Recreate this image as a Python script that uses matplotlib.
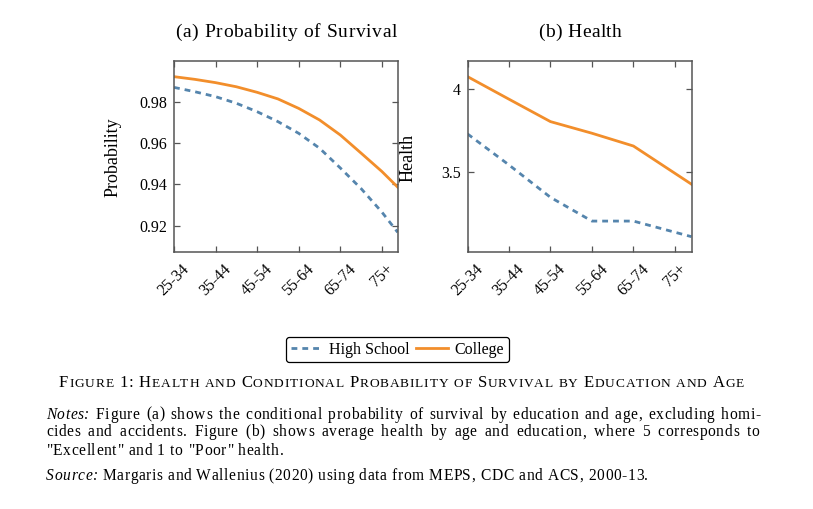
import matplotlib
matplotlib.use('Agg')
import matplotlib.pyplot as plt
from matplotlib.lines import Line2D

W, H = 813, 509
plt.rcParams['font.family'] = ['Liberation Serif', 'DejaVu Serif']

# ---------------- data ----------------
age_labels = ['25-34', '35-44', '45-54', '55-64', '65-74', '75+']
tick_ages = [25, 35, 45, 55, 65, 75]

surv_ages = [25, 30, 35, 40, 45, 50, 55, 60, 65, 70, 75, 78.8]
surv_hs = [0.9871, 0.9850, 0.9826, 0.9794, 0.9753, 0.9705, 0.9648, 0.9576,
           0.9480, 0.9380, 0.9266, 0.9168]
surv_col = [0.9923, 0.9910, 0.9894, 0.9874, 0.9847, 0.9815, 0.9769, 0.9713,
            0.9640, 0.9552, 0.9463, 0.9387]

health_ages = [25, 35, 45, 55, 65, 79]
health_hs = [3.731, 3.544, 3.349, 3.206, 3.206, 3.112]
health_col = [4.076, 3.940, 3.805, 3.735, 3.658, 3.428]

series_names = ['High School', 'College']
c_hs = '#5585ad'
c_col = '#f28e2b'
spine_c = '#555555'

fig = plt.figure(figsize=(W / 100, H / 100), dpi=100)
renderer = fig.canvas.get_renderer()


def fx(x):
    return x / W


def fy(y):
    return 1 - y / H


def style_ax(ax, xmax):
    ax.set_xlim(25, xmax)
    ax.set_xticks(tick_ages)
    ax.set_xticklabels(age_labels)
    for lbl in ax.get_xticklabels():
        lbl.set(rotation=45, ha='center', va='top', rotation_mode='default')
    ax.tick_params(direction='in', length=4, width=0.9, color=spine_c,
                   top=True, right=True, labelsize=11.5, pad=5)
    ax.tick_params(axis='x', pad=6.5)
    for s in ax.spines.values():
        s.set_color(spine_c)
        s.set_linewidth(1.1)


hs_kw = dict(color=c_hs, lw=2.0, dashes=(2.1, 1.8))
col_kw = dict(color=c_col, lw=2.0)

# panel (a)
axa = fig.add_axes([fx(174), fy(252.3), fx(397.7 - 174), (252.3 - 61) / H])
axa.plot(surv_ages, surv_hs, **hs_kw)
axa.plot(surv_ages, surv_col, **col_kw)
axa.set_ylim(0.9071, 0.9999)
axa.set_yticks([0.92, 0.94, 0.96, 0.98])
axa.set_yticklabels(['0.92', '0.94', '0.96', '0.98'])
style_ax(axa, 78.8)

# panel (b)
axb = fig.add_axes([fx(467.5), fy(252.3), fx(691.5 - 467.5), (252.3 - 61) / H])
axb.plot(health_ages, health_hs, **hs_kw)
axb.plot(health_ages, health_col, **col_kw)
axb.set_ylim(3.018, 4.17)
axb.set_yticks([3.5, 4.0])
axb.set_yticklabels(['3.5', '4'])
style_ax(axb, 79)

fig.text(fx(113), fy(157.5), 'Probability', rotation=90, ha='center', va='center', fontsize=13)
fig.text(fx(408), fy(158), 'Health', rotation=90, ha='center', va='center', fontsize=13)

# legend
handles = [Line2D([], [], **hs_kw), Line2D([], [], **col_kw)]
leg = fig.legend(handles, series_names, loc='center', bbox_to_anchor=(fx(397.5), fy(349.5)),
                 ncol=2, frameon=True, fancybox=True, fontsize=11.5, handlelength=2.0,
                 handletextpad=0.4, columnspacing=0.4, borderpad=0.3, framealpha=1)
leg.get_frame().set_edgecolor('black')
leg.get_frame().set_linewidth(0.9)


# ---------------- tracked text helpers ----------------
_cache = {}


def _key(s, kw):
    return (s, tuple(sorted(kw.items())))


def ink(s, kw):
    k = _key(s, kw)
    if k not in _cache:
        t = fig.text(0, 0, s, **kw)
        _cache[k] = t.get_window_extent(renderer).width
        t.remove()
    return _cache[k]


def adv(s, kw):
    return ink('|' + s + '|', kw) - ink('||', kw)


def lsb(c, kw):
    b = ink('|', kw)
    r = (ink('||', kw) - 2 * b) / 2
    return ink('|' + c, kw) - b - r - ink(c, kw)


def run_width(chars, tracking):
    w = sum(adv(c, kw) for c, kw in chars)
    return w + tracking * max(len(chars) - 1, 0)


def draw_run(chars, x, yb, tracking):
    for i, (c, kw) in enumerate(chars):
        fig.text(fx(x + lsb(c, kw)), fy(yb), c, ha='left', va='baseline', **kw)
        x += adv(c, kw)
        if i < len(chars) - 1:
            x += tracking
    return x


def plain_chars(s, kw):
    return [(c, kw) for c in s]


def fit_tracking(words, space_kw, target):
    sp = adv(' ', space_kw)
    nat = sum(run_width(w, 0) for w in words) + sp * (len(words) - 1)
    n = sum(len(w) for w in words) + (len(words) - 1)
    return (target - nat) / max(n - 1, 1)


def draw_words(words, x0, yb, tracking, space_kw, x1=None):
    sp = adv(' ', space_kw) + 2 * tracking
    if x1 is not None:
        total = sum(run_width(w, tracking) for w in words)
        sp = (x1 - x0 - total) / (len(words) - 1)
    x = x0
    for w in words:
        x = draw_run(w, x, yb, tracking)
        x += sp
    return x


def total_width(words, tracking, space_kw):
    return sum(run_width(w, tracking) for w in words) + \
        (adv(' ', space_kw) + 2 * tracking) * (len(words) - 1)


# titles (tracked to match width)
TIT = dict(fontsize=14)
for txt, xc, width in [('(a) Probability of Survival', 286, 222), ('(b) Health', 580, 84)]:
    words = [plain_chars(w, TIT) for w in txt.split(' ')]
    tr = max(min(fit_tracking(words, TIT, width), 1.0), 0)
    total = total_width(words, tr, TIT)
    draw_words(words, xc - total / 2, 37, tr, TIT)

# caption in small caps
BIG = dict(fontsize=12)
SMALL = dict(fontsize=9.6)
caption = 'Figure 1: Health and Conditional Probability of Survival by Education and Age'
cap_words = []
for w in caption.split(' '):
    cap_words.append([(c.upper(), SMALL if c.islower() else BIG) for c in w])
tr = fit_tracking(cap_words, BIG, 744 - 59)
draw_words(cap_words, 59, 387, tr, BIG)

# notes
ROM = dict(fontsize=11.2)
ITA = dict(fontsize=11.2, style='italic')


def body_words(line):
    out = []
    for w in line.split():
        kw = ITA if w in ('Notes:', 'Source:') else ROM
        out.append(plain_chars(w, kw))
    return out


source_line = 'Source: Margaris and Wallenius (2020) using data from MEPS, CDC and ACS, 2000-13.'
src_words = body_words(source_line)
body_tr = fit_tracking(src_words, ROM, 648 - 46)

note_lines = [
    'Notes: Figure (a) shows the conditional probability of survival by education and age, excluding homi-',
    'cides and accidents.  Figure (b) shows average health by age and education, where 5 corresponds to',
    '"Excellent" and 1 to "Poor" health.',
]
draw_words(body_words(note_lines[0]), 46, 418.7, body_tr, ROM, x1=760.5)
draw_words(body_words(note_lines[1]), 46, 436.5, body_tr, ROM, x1=759.5)
draw_words(body_words(note_lines[2]), 46, 455, body_tr, ROM)
draw_words(src_words, 46, 480, body_tr, ROM)

fig.savefig('out.png', dpi=100)
